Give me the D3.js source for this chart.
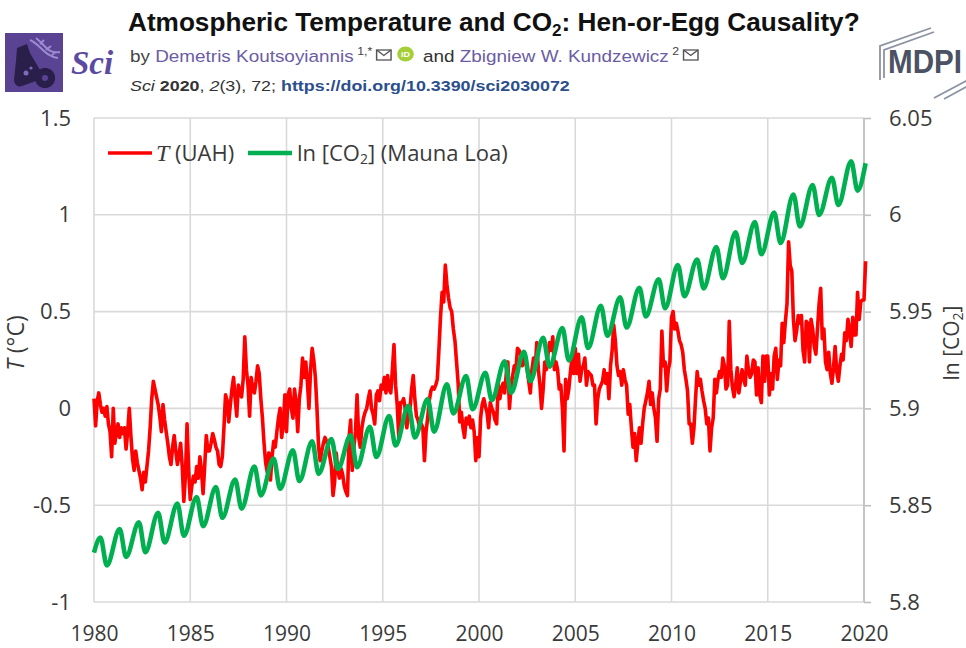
<!DOCTYPE html>
<html>
<head>
<meta charset="utf-8">
<script src="https://cdn.jsdelivr.net/npm/d3@7"></script>
<style>
  body { margin: 0; background: #fff; }
  svg { display: block; font-family: "Open Sans", sans-serif; }
  svg text { white-space: pre; }
</style>
</head>
<body>
<svg id="chart" width="966" height="648"></svg>
<script>
// ===== data =====

// UAH lower-troposphere anomaly, monthly, Jan 1980 .. Feb 2020 (°C)
const tempUAH = [
  0.05, -0.09, 0.04, 0.08, 0.02, -0.02, 0.0, -0.04, 0.01, -0.08, -0.12, -0.25,      // 1980
  0.0, -0.18, -0.12, -0.08, -0.15, -0.10, -0.13, -0.10, -0.21, -0.12, 0.0, -0.14,    // 1981
  -0.26, -0.32, -0.22, -0.28, -0.32, -0.36, -0.42, -0.33, -0.38, -0.30, -0.22, -0.10,// 1982
  0.05, 0.14, 0.10, 0.06, 0.02, -0.04, -0.12, 0.02, -0.06, -0.12, -0.18, -0.25,      // 1983
  -0.29, -0.20, -0.14, -0.22, -0.29, -0.24, -0.18, -0.30, -0.48, -0.35, -0.08, -0.32,// 1984
  -0.47, -0.40, -0.35, -0.38, -0.30, -0.36, -0.25, -0.32, -0.44, -0.30, -0.14, -0.22,// 1985
  -0.22, -0.18, -0.13, -0.16, -0.20, -0.22, -0.29, -0.30, -0.25, -0.10, 0.07, 0.04,  // 1986
  -0.07, 0.02, 0.10, 0.16, 0.05, -0.04, 0.12, 0.08, 0.06, 0.15, 0.37, 0.20,          // 1987
  0.12, -0.04, 0.16, 0.10, 0.08, 0.14, 0.22, 0.18, 0.05, -0.05, -0.18, -0.28,        // 1988
  -0.33, -0.23, -0.37, -0.25, -0.17, -0.20, -0.12, -0.05, 0.0, -0.15, -0.08, 0.07,   // 1989
  -0.12, 0.07, 0.10, 0.0, -0.05, 0.10, 0.03, -0.12, 0.05, 0.12, 0.26, 0.16,          // 1990
  0.24, 0.14, 0.0, 0.20, 0.31, 0.25, 0.16, 0.0, -0.20, -0.27, -0.22, -0.18,          // 1991
  -0.15, -0.17, -0.20, -0.25, -0.30, -0.45, -0.38, -0.23, -0.32, -0.36, -0.31, -0.34,// 1992
  -0.40, -0.43, -0.45, -0.15, -0.06, -0.32, -0.20, -0.12, 0.07, -0.15, -0.20, -0.10, // 1993
  -0.05, -0.02, 0.0, 0.05, 0.09, 0.0, -0.03, -0.08, 0.07, 0.09, 0.04, 0.12,          // 1994
  0.10, 0.16, 0.08, 0.17, 0.10, 0.08, 0.20, 0.33, 0.12, 0.02, -0.15, 0.03,           // 1995
  0.03, 0.05, 0.0, -0.10, -0.03, 0.0, 0.10, 0.17, 0.05, -0.04, -0.06, -0.10,         // 1996
  -0.08, -0.10, -0.27, -0.12, -0.05, 0.04, 0.09, 0.11, 0.10, 0.12, 0.15, 0.30,       // 1997
  0.47, 0.60, 0.55, 0.74, 0.64, 0.57, 0.52, 0.50, 0.41, 0.35, 0.24, 0.13,            // 1998
  -0.07, -0.02, -0.10, -0.15, -0.05, -0.08, -0.04, -0.10, -0.06, -0.12, -0.27, -0.15,// 1999
  -0.25, -0.05, 0.02, 0.05, 0.01, -0.02, -0.10, 0.03, 0.0, -0.02, -0.06, -0.08,      // 2000
  0.13, 0.05, 0.10, 0.13, 0.08, 0.18, 0.24, 0.0, 0.12, 0.17, 0.22, 0.20,             // 2001
  0.31, 0.30, 0.28, 0.22, 0.29, 0.24, 0.20, 0.14, 0.08, 0.20, 0.26, 0.20,            // 2002
  0.34, 0.20, 0.12, 0.0, 0.10, 0.24, 0.20, 0.28, 0.34, 0.30, 0.37, 0.20,             // 2003
  0.24, 0.20, 0.10, 0.12, 0.0, -0.22, 0.15, 0.05, 0.10, 0.19, 0.26, 0.18,            // 2004
  0.31, 0.18, 0.28, 0.14, 0.20, 0.22, 0.26, 0.12, 0.19, 0.18, 0.17, 0.12,            // 2005
  0.12, -0.08, 0.05, 0.10, 0.12, 0.14, 0.20, 0.13, 0.18, 0.05, 0.22, 0.30,           // 2006
  0.43, 0.35, 0.22, 0.17, 0.19, 0.12, 0.20, 0.15, 0.12, -0.03, 0.02, -0.10,          // 2007
  -0.20, -0.13, -0.27, -0.18, -0.10, -0.18, -0.08, 0.0, 0.04, 0.08, 0.14, 0.02,      // 2008
  0.08, 0.0, -0.05, -0.17, 0.05, 0.10, 0.40, 0.22, 0.24, 0.09, 0.20, 0.24,           // 2009
  0.47, 0.50, 0.41, 0.44, 0.40, 0.35, 0.33, 0.29, 0.20, 0.15, 0.09, -0.08,           // 2010
  -0.08, -0.18, -0.10, 0.05, 0.19, 0.12, 0.15, 0.09, 0.04, 0.0, -0.08, -0.05,        // 2011
  -0.22, -0.10, -0.05, 0.15, 0.08, 0.15, 0.19, 0.16, 0.26, 0.22, 0.10, 0.12,         // 2012
  0.45, 0.20, 0.11, 0.06, 0.12, 0.21, 0.08, 0.14, 0.20, 0.15, 0.12, 0.27,            // 2013
  0.20, 0.16, 0.18, 0.25, 0.24, 0.07, 0.21, 0.07, 0.03, 0.27, 0.14, 0.27,            // 2014
  0.27, 0.07, 0.18, 0.10, 0.27, 0.31, 0.15, 0.25, 0.22, 0.44, 0.34, 0.45,            // 2015
  0.54, 0.86, 0.74, 0.71, 0.46, 0.35, 0.40, 0.48, 0.44, 0.48, 0.30, 0.24,            // 2016
  0.45, 0.44, 0.24, 0.46, 0.41, 0.32, 0.28, 0.41, 0.54, 0.62, 0.36, 0.41,            // 2017
  0.24, 0.20, 0.29, 0.18, 0.13, 0.21, 0.32, 0.19, 0.14, 0.22, 0.28, 0.25,            // 2018
  0.39, 0.35, 0.46, 0.40, 0.32, 0.47, 0.38, 0.38, 0.60, 0.46, 0.55, 0.56,            // 2019
  0.56, 0.76                                                                         // 2020
];

// ln[CO2] at Mauna Loa: yearly maximum (May) and minimum (Sep), 1980..2019
const co2Years = d3.range(1980, 2020);
const co2Peak = [5.8333, 5.8377, 5.8412, 5.8461, 5.8508, 5.8542, 5.8594, 5.8633, 5.8699, 5.8741,
                 5.8783, 5.8830, 5.8842, 5.8861, 5.8905, 5.8961, 5.9013, 5.9048, 5.9124, 5.9167,
                 5.9184, 5.9243, 5.9293, 5.9365, 5.9415, 5.9470, 5.9530, 5.9574, 5.9623, 5.9667,
                 5.9741, 5.9769, 5.9834, 5.9910, 5.9962, 6.0012, 6.0105, 6.0154, 6.0191, 6.0276];
const co2Low  = [5.8189, 5.8233, 5.8257, 5.8307, 5.8342, 5.8392, 5.8435, 5.8482, 5.8551, 5.8585,
                 5.8625, 5.8662, 5.8687, 5.8696, 5.8749, 5.8808, 5.8850, 5.8880, 5.8974, 5.8996,
                 5.9043, 5.9081, 5.9140, 5.9216, 5.9248, 5.9312, 5.9375, 5.9418, 5.9475, 5.9517,
                 5.9579, 5.9620, 5.9672, 5.9751, 5.9796, 5.9854, 5.9940, 5.9999, 6.0051, 6.0125];
const co2First = 5.8255;   // Jan 1980
const co2Last  = 6.0266;   // Feb 2020

// axis ticks
const yearTicks = [1980, 1985, 1990, 1995, 2000, 2005, 2010, 2015, 2020];
const tTicks    = [-1, -0.5, 0, 0.5, 1, 1.5];
const co2Ticks  = [5.8, 5.85, 5.9, 5.95, 6, 6.05];

// ===== setup =====
const svg = d3.select('#chart');
svg.append('rect').attr('width', 966).attr('height', 648).attr('fill', '#fff');

const plot = { left: 94, right: 864, top: 118, bottom: 602 };
const x  = d3.scaleLinear().domain([1980, 2020]).range([plot.left, plot.right]);
const yT = d3.scaleLinear().domain([-1, 1.5]).range([plot.bottom, plot.top]);
const yC = d3.scaleLinear().domain([5.8, 6.05]).range([plot.bottom, plot.top]);

const GRID = '#d9d9d9', LABEL = '#3a3a3a';

// ---- header ----
const head = svg.append('g').attr('font-family', '"Liberation Sans", Arial, sans-serif');

// stretch a group horizontally so it spans the same width as in the figure
function fitRow(g, x0, x1) {
  const w = g.node().getBBox().width;
  g.attr('transform', `translate(${x0},0) scale(${(x1 - x0) / w},1)`);
}

// Sci journal logo
const logo = head.append('g');
logo.append('rect').attr('x', 5).attr('y', 33).attr('width', 58).attr('height', 59).attr('fill', '#5b4393');
logo.append('path')   // DNA strands
  .attr('d', 'M30,40 C40,44 44,56 58,58 M36,38 C46,46 48,54 60,52 M40,44 L44,40 M46,50 L51,46 M52,55 L56,52')
  .attr('fill', 'none').attr('stroke', '#9b8bd1').attr('stroke-width', 2);
logo.append('path')   // flask
  .attr('d', 'M17,48 L27,44 L30,53 L40,70 Q43,78 36,81 L22,86 Q15,88 14,80 L16,61 Z')
  .attr('fill', '#2a1f4a');
logo.append('circle').attr('cx', 26).attr('cy', 73).attr('r', 2.5).attr('fill', '#7d6ab8');
logo.append('circle').attr('cx', 31).attr('cy', 68).attr('r', 1.6).attr('fill', '#7d6ab8');
const gear = logo.append('g').attr('transform', 'translate(45,78)');
gear.selectAll('rect').data(d3.range(8)).join('rect')
  .attr('x', -2).attr('y', -10).attr('width', 4).attr('height', 20)
  .attr('transform', d => `rotate(${d * 22.5})`).attr('fill', '#2a1f4a');
gear.append('circle').attr('r', 7.5).attr('fill', '#2a1f4a');
gear.append('circle').attr('r', 3).attr('fill', '#5b4393');

head.append('text').attr('x', 71).attr('y', 74)
  .attr('font-family', '"Liberation Serif", serif').attr('font-style', 'italic')
  .attr('font-weight', 'bold').attr('font-size', 33).attr('fill', '#5b4aa0').text('Sci');

// title
const title = head.append('g');
const tt = title.append('text').attr('y', 31).attr('font-size', 26).attr('font-weight', 'bold').attr('fill', '#111');
tt.append('tspan').text('Atmospheric Temperature and CO');
tt.append('tspan').attr('font-size', 17).attr('dy', 5).text('2');
tt.append('tspan').attr('dy', -5).text(': Hen-or-Egg Causality?');
fitRow(title, 128, 860);

// rows of mixed text and icons, laid out piece by piece
function buildRow(g, y, pieces) {
  let cx = 0;
  pieces.forEach(p => {
    if (p.icon) {
      p.icon(g, cx, y);
      cx += p.w;
    } else {
      const t = g.append('text').attr('x', cx).attr('y', y + (p.dy || 0))
        .attr('font-size', p.size || 17).attr('fill', p.fill || '#333')
        .attr('font-weight', p.bold ? 'bold' : null)
        .attr('font-style', p.italic ? 'italic' : null)
        .attr('xml:space', 'preserve')
        .text(p.t);
      cx += t.node().getComputedTextLength();
    }
  });
}
function envelope(g, cx, y) {
  g.append('rect').attr('x', cx + 4).attr('y', y - 12).attr('width', 13).attr('height', 10)
    .attr('fill', 'none').attr('stroke', '#555').attr('stroke-width', 1.3);
  g.append('path').attr('d', `M${cx + 4},${y - 12} L${cx + 10.5},${y - 6.5} L${cx + 17},${y - 12}`)
    .attr('fill', 'none').attr('stroke', '#555').attr('stroke-width', 1.3);
}
function orcid(g, cx, y) {
  g.append('circle').attr('cx', cx + 10).attr('cy', y - 8).attr('r', 7.5).attr('fill', '#a6ce39');
  g.append('text').attr('x', cx + 10).attr('y', y - 5).attr('text-anchor', 'middle')
    .attr('font-size', 8).attr('font-weight', 'bold').attr('fill', '#fff').text('iD');
}
const PURPLE = '#6b5ca5';
const authors = head.append('g');
buildRow(authors, 62, [
  { t: 'by ', fill: '#444' },
  { t: 'Demetris Koutsoyiannis', fill: PURPLE },
  { t: ' 1,*', size: 11, dy: -7, fill: '#444' },
  { icon: envelope, w: 20 },
  { icon: orcid, w: 21 },
  { t: ' and ', fill: '#333' },
  { t: 'Zbigniew W. Kundzewicz', fill: PURPLE },
  { t: ' 2', size: 11, dy: -7, fill: '#444' },
  { icon: envelope, w: 18 }
]);
fitRow(authors, 130, 698);

const cite = head.append('g');
buildRow(cite, 91, [
  { t: 'Sci', italic: true, size: 15 },
  { t: ' 2020', bold: true, size: 15 },
  { t: ', ', size: 15 },
  { t: '2', italic: true, size: 15 },
  { t: '(3), 72; ', size: 15 },
  { t: 'https://doi.org/10.3390/sci2030072', bold: true, size: 15, fill: '#2b4f8c' }
]);
fitRow(cite, 130, 570);

// MDPI logo
head.append('path').attr('d', 'M931,28 L880,46 L880,80 M934,32 L884,50 L884,78')
  .attr('fill', 'none').attr('stroke', '#8c93a3').attr('stroke-width', 1.8);
head.append('path').attr('d', 'M968,80 L934,98 M968,86 L944,99')
  .attr('fill', 'none').attr('stroke', '#8c93a3').attr('stroke-width', 1.8);
const mdpi = head.append('g');
mdpi.append('text').attr('y', 73).attr('font-size', 34).attr('font-weight', 'bold')
  .attr('fill', '#4b5263').text('MDPI');
fitRow(mdpi, 888, 962);

// ---- grid ----
const grid = svg.append('g').attr('stroke', GRID).attr('stroke-width', 1.6);
grid.selectAll('.h').data(tTicks).join('line').attr('class', 'h')
  .attr('x1', plot.left).attr('x2', plot.right)
  .attr('y1', d => yT(d)).attr('y2', d => yT(d));
grid.selectAll('.v').data(yearTicks).join('line').attr('class', 'v')
  .attr('x1', d => x(d)).attr('x2', d => x(d))
  .attr('y1', plot.top).attr('y2', plot.bottom);

// ---- axes ----
function styleAxis(g, size) {
  g.attr('font-family', '"Open Sans", sans-serif').attr('font-size', size);
  g.selectAll('text').attr('fill', LABEL);
  g.select('.domain').remove();
}
svg.append('g').attr('transform', `translate(${plot.left},0)`)
  .call(d3.axisLeft(yT).tickValues(tTicks).tickSize(0).tickPadding(23).tickFormat(String))
  .call(styleAxis, 22);

svg.append('g').attr('transform', `translate(0,${plot.bottom})`)
  .call(d3.axisBottom(x).tickValues(yearTicks).tickSize(0).tickPadding(24).tickFormat(String))
  .call(styleAxis, 21);

const rAxis = svg.append('g').attr('transform', `translate(${plot.right},0)`)
  .call(d3.axisRight(yC).tickValues(co2Ticks).tickSize(7).tickPadding(18).tickFormat(String))
  .call(styleAxis, 22);
rAxis.selectAll('.tick line').attr('stroke', '#bfbfbf').attr('stroke-width', 1.6);
rAxis.append('line').attr('x1', 0).attr('x2', 0).attr('y1', plot.top).attr('y2', plot.bottom)
  .attr('stroke', '#bfbfbf').attr('stroke-width', 1.6);

// axis titles
const ltitle = svg.append('text').attr('transform', 'translate(24,343) rotate(-90)')
  .attr('text-anchor', 'middle').attr('font-size', 23).attr('fill', LABEL);
ltitle.append('tspan').attr('font-style', 'italic').text('T');
ltitle.append('tspan').text(' (°C)');

const rtitle = svg.append('text').attr('transform', 'translate(959,343) rotate(-90)')
  .attr('text-anchor', 'middle').attr('font-size', 21).attr('fill', LABEL);
rtitle.append('tspan').text('ln [CO');
rtitle.append('tspan').attr('font-size', 14).attr('dy', 4).text('2');
rtitle.append('tspan').attr('dy', -4).text(']');

// ---- series ----
const tempPts = tempUAH.map((v, i) => [1980 + i / 12, v]);

const co2Pts = [[1980, co2First]];
co2Years.forEach((yr, i) => {
  co2Pts.push([yr + 4 / 12, co2Peak[i]]);
  co2Pts.push([yr + 8 / 12, co2Low[i]]);
});
co2Pts.push([2020 + 1 / 12, co2Last]);

svg.append('path').datum(tempPts)
  .attr('fill', 'none').attr('stroke', '#ff0000').attr('stroke-width', 3.6)
  .attr('stroke-linejoin', 'round')
  .attr('d', d3.line().x(d => x(d[0])).y(d => yT(d[1])));

svg.append('path').datum(co2Pts)
  .attr('fill', 'none').attr('stroke', '#00b050').attr('stroke-width', 4.6)
  .attr('stroke-linejoin', 'round')
  .attr('d', d3.line().curve(d3.curveMonotoneX).x(d => x(d[0])).y(d => yC(d[1])));

// ---- legend ----
const leg = svg.append('g').attr('font-size', 22).attr('fill', LABEL);
leg.append('line').attr('x1', 108).attr('x2', 152).attr('y1', 153).attr('y2', 153)
  .attr('stroke', '#ff0000').attr('stroke-width', 3.6);
const l1 = leg.append('text').attr('x', 156).attr('y', 161);
l1.append('tspan').attr('font-family', '"Liberation Serif", serif').attr('font-style', 'italic')
  .attr('font-size', 24).text('T');
l1.append('tspan').text(' (UAH)');

leg.append('line').attr('x1', 248).attr('x2', 292).attr('y1', 153).attr('y2', 153)
  .attr('stroke', '#00b050').attr('stroke-width', 4.6);
const l2 = leg.append('text').attr('x', 297).attr('y', 161);
l2.append('tspan').text('ln [CO');
l2.append('tspan').attr('font-size', 14).attr('dy', 3).text('2');
l2.append('tspan').attr('dy', -3).text('] (Mauna Loa)');
</script>
</body>
</html>
